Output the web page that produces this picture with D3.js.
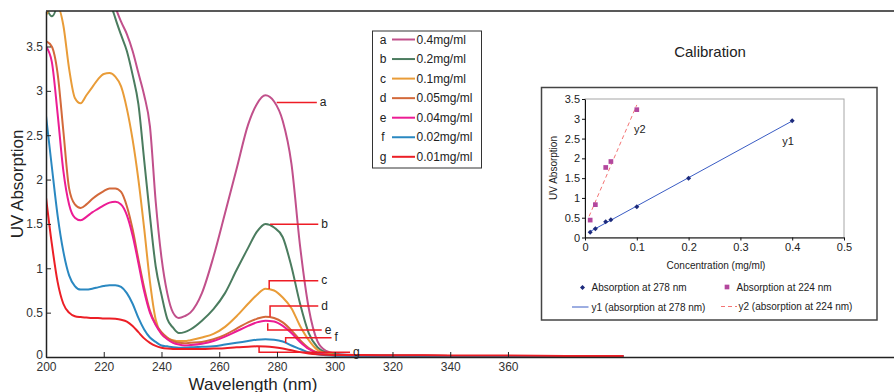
<!DOCTYPE html>
<html>
<head>
<meta charset="utf-8">
<style>
body { margin: 0; background: #fff; }
svg { display: block; font-family: "Liberation Sans", Arial, sans-serif; }
</style>
</head>
<body>
<svg width="894" height="392"></svg>
<script src="https://d3js.org/d3.v7.min.js"></script>
<script>

// ---- spectra (absorbance per wavelength) ----
var wavelengths = [200, 202, 204, 206, 208, 210, 212, 214, 216, 218, 220, 222, 224, 226, 228, 230,
  232, 234, 236, 238, 240, 242, 244, 246, 248, 250, 254, 258, 262, 266, 270, 273, 276, 279,
  282, 285, 288, 291, 294, 297, 300, 305, 310, 320, 340, 360, 380, 400]

var absA = [4.6, 4.6, 4.6, 4.6, 4.6, 4.6, 4.6, 4.6, 4.6, 4.6, 4.6, 4.2, 3.95, 3.78, 3.64, 3.45,
  3.2, 2.95, 2.6, 1.75, 1.12, 0.72, 0.5, 0.44, 0.46, 0.5, 0.72, 1.13, 1.62, 2.12, 2.62, 2.85, 2.95, 2.88,
  2.66, 2.18, 1.25, 0.55, 0.18, 0.07, 0.04, 0.025, 0.02, 0.015, 0.012, 0.01, 0.008, 0.008]
var absB = [3.95, 3.84, 4.0, 4.5, 4.5, 4.5, 4.5, 4.5, 4.5, 4.5, 4.5, 4.05, 3.82, 3.63, 3.45, 3.18,
  2.85, 2.22, 1.59, 1.02, 0.7, 0.43, 0.33, 0.27, 0.28, 0.31, 0.41, 0.54, 0.72, 0.98, 1.23, 1.41, 1.5, 1.46,
  1.35, 1.02, 0.6, 0.27, 0.11, 0.05, 0.03, 0.022, 0.02, 0.015, 0.012, 0.01, 0.008, 0.008]
var absC = [3.85, 3.95, 3.95, 3.74, 3.25, 2.92, 2.86, 2.95, 3.04, 3.13, 3.19, 3.2, 3.16, 3.05, 2.8, 2.45,
  2.0, 1.45, 0.85, 0.42, 0.26, 0.21, 0.19, 0.18, 0.18, 0.19, 0.22, 0.26, 0.34, 0.46, 0.6, 0.7, 0.77, 0.75,
  0.67, 0.55, 0.35, 0.19, 0.08, 0.04, 0.025, 0.02, 0.018, 0.015, 0.012, 0.01, 0.008, 0.008]
var absD = [3.56, 3.5, 3.2, 2.55, 1.9, 1.72, 1.68, 1.72, 1.78, 1.83, 1.87, 1.9, 1.9, 1.86, 1.7, 1.44,
  1.1, 0.78, 0.52, 0.37, 0.28, 0.22, 0.18, 0.16, 0.155, 0.16, 0.17, 0.2, 0.25, 0.32, 0.39, 0.43, 0.455, 0.44,
  0.39, 0.3, 0.19, 0.1, 0.05, 0.03, 0.02, 0.018, 0.016, 0.014, 0.012, 0.01, 0.008, 0.008]
var absE = [3.5, 3.33, 2.75, 2.1, 1.72, 1.57, 1.54, 1.58, 1.63, 1.67, 1.71, 1.74, 1.75, 1.72, 1.6, 1.37,
  1.06, 0.74, 0.5, 0.36, 0.26, 0.2, 0.16, 0.14, 0.13, 0.135, 0.15, 0.18, 0.23, 0.29, 0.35, 0.39, 0.41, 0.4,
  0.35, 0.27, 0.17, 0.09, 0.045, 0.025, 0.02, 0.018, 0.016, 0.014, 0.012, 0.01, 0.008, 0.008]
var absF = [2.72, 2.15, 1.6, 1.19, 0.92, 0.8, 0.76, 0.76, 0.77, 0.785, 0.8, 0.81, 0.81, 0.79, 0.72, 0.6,
  0.44, 0.31, 0.22, 0.17, 0.13, 0.12, 0.11, 0.105, 0.105, 0.11, 0.115, 0.12, 0.14, 0.16, 0.18, 0.195, 0.2, 0.195,
  0.175, 0.13, 0.09, 0.05, 0.03, 0.02, 0.015, 0.015, 0.014, 0.013, 0.012, 0.01, 0.008, 0.008]
var absG = [1.8, 1.28, 0.85, 0.6, 0.5, 0.46, 0.45, 0.445, 0.44, 0.44, 0.435, 0.435, 0.43, 0.42, 0.4, 0.35,
  0.28, 0.21, 0.16, 0.125, 0.105, 0.095, 0.09, 0.09, 0.09, 0.09, 0.09, 0.095, 0.1, 0.11, 0.115, 0.12, 0.118, 0.11,
  0.095, 0.075, 0.055, 0.04, 0.03, 0.025, 0.022, 0.022, 0.022, 0.02, 0.018, 0.016, 0.012, 0.01]

var curveKeys = ['a', 'b', 'c', 'd', 'e', 'f', 'g']
var curveConc = ['0.4mg/ml', '0.2mg/ml', '0.1mg/ml', '0.05mg/ml', '0.04mg/ml', '0.02mg/ml', '0.01mg/ml']
var curveValues = [absA, absB, absC, absD, absE, absF, absG]
var curveColors = ['#c1508b', '#4b7c5f', '#e99c38', '#d3693a', '#ec1c94', '#2a88c1', '#ec1f26']

// red call-outs: [start nm, start abs, elbow abs, end nm]
var callouts = [
  [279.9, 2.87, 2.87, 293.8],
  [277.6, 1.496, 1.496, 294.3],
  [277.3, 0.767, 0.86, 294.3],
  [277.6, 0.454, 0.575, 294.3],
  [276.8, 0.38, 0.304, 295.5],
  [283.0, 0.158, 0.218, 298.9],
  [273.8, 0.116, 0.053, 305.3]
]

var xTicks = [200, 220, 240, 260, 280, 300, 320, 340, 360]
var yTicks = [0, 0.5, 1, 1.5, 2, 2.5, 3, 3.5]

// ---- calibration inset ----
var conc278 = [0.01, 0.02, 0.04, 0.05, 0.1, 0.2, 0.4]
var abs278 = [0.13, 0.22, 0.40, 0.45, 0.78, 1.50, 2.95]
var conc224 = [0.01, 0.02, 0.04, 0.05, 0.1]
var abs224 = [0.44, 0.83, 1.77, 1.92, 3.23]
var calXTicks = [0, 0.1, 0.2, 0.3, 0.4, 0.5]
var calYTicks = [0, 0.5, 1, 1.5, 2, 2.5, 3, 3.5]

var svg = d3.select('svg')
var ink = '#222'

// main plot scales
var x = d3.scaleLinear().domain([200, 493.7]).range([46, 894])
var y = d3.scaleLinear().domain([0, 3.9]).range([357, 11])

svg.append('clipPath').attr('id', 'plotClip')
  .append('rect').attr('x', 46).attr('y', 11).attr('width', 848).attr('height', 346)

var line = d3.line()
  .x(function (d) { return x(d[0]) })
  .y(function (d) { return y(d[1]) })
  .curve(d3.curveMonotoneX)

var curveGroup = svg.append('g').attr('clip-path', 'url(#plotClip)')
curveValues.forEach(function (vals, i) {
  var pts = wavelengths.map(function (w, j) { return [w, vals[j]] })
  curveGroup.append('path')
    .attr('d', line(pts))
    .attr('fill', 'none')
    .attr('stroke', curveColors[i])
    .attr('stroke-width', 2)
})

// call-outs
var calloutGroup = svg.append('g')
callouts.forEach(function (c, i) {
  calloutGroup.append('path')
    .attr('d', 'M' + x(c[0]) + ',' + y(c[1]) + 'V' + y(c[2]) + 'H' + x(c[3]))
    .attr('fill', 'none')
    .attr('stroke', '#ee1c25')
    .attr('stroke-width', 1.5)
  calloutGroup.append('text')
    .attr('x', x(c[3]) + 3)
    .attr('y', y(c[2]))
    .attr('dy', '0.3em')
    .attr('font-size', 12)
    .attr('fill', ink)
    .text(curveKeys[i])
})

// axes
var yAxis = svg.append('g').attr('transform', 'translate(46,0)')
  .call(d3.axisLeft(y).tickValues(yTicks).tickSize(-5).tickSizeOuter(0).tickPadding(3)
    .tickFormat(d3.format('')))
var xAxis = svg.append('g').attr('transform', 'translate(0,357)')
  .call(d3.axisBottom(x).tickValues(xTicks).tickSize(-5).tickSizeOuter(0).tickPadding(5))
;[xAxis, yAxis].forEach(function (ax) {
  ax.select('.domain').attr('stroke', ink).attr('stroke-width', 1.5)
  ax.selectAll('.tick line').attr('stroke', ink)
  ax.selectAll('text').attr('font-size', 12).attr('fill', '#333')
    .attr('font-family', '"Liberation Sans", Arial, sans-serif')
})
// lift the "0" label a touch so it clears the x tick labels
yAxis.selectAll('.tick').filter(function (d) { return d === 0 }).select('text').attr('dy', '0.1em')
svg.append('line').attr('x1', 46).attr('x2', 894).attr('y1', 11).attr('y2', 11)
  .attr('stroke', ink).attr('stroke-width', 1.5)

svg.append('text')
  .attr('transform', 'translate(23,184) rotate(-90)')
  .attr('text-anchor', 'middle')
  .attr('font-size', 17).attr('fill', ink)
  .text('UV Absorption')
svg.append('text')
  .attr('x', 253).attr('y', 390)
  .attr('text-anchor', 'middle')
  .attr('font-size', 17).attr('fill', ink)
  .text('Wavelength (nm)')

// legend
var legend = svg.append('g')
legend.append('rect').attr('x', 372.5).attr('y', 31).attr('width', 109).attr('height', 137)
  .attr('fill', '#fff').attr('stroke', '#333')
curveKeys.forEach(function (k, i) {
  var ly = 39.5 + i * 19.55
  legend.append('text').attr('x', 383).attr('y', ly).attr('dy', '0.35em')
    .attr('text-anchor', 'middle').attr('font-size', 12).attr('fill', ink).text(k)
  legend.append('line').attr('x1', 392).attr('x2', 415).attr('y1', ly).attr('y2', ly)
    .attr('stroke', curveColors[i]).attr('stroke-width', 2)
  legend.append('text').attr('x', 416.5).attr('y', ly).attr('dy', '0.35em')
    .attr('font-size', 12).attr('fill', ink).text(curveConc[i])
})

// ---- calibration inset ----
svg.append('text').attr('x', 710).attr('y', 57).attr('text-anchor', 'middle')
  .attr('font-size', 15).attr('fill', ink).text('Calibration')

var cal = svg.append('g')
cal.append('rect').attr('x', 541.5).attr('y', 87.5).attr('width', 335.5).attr('height', 232.5)
  .attr('fill', '#fff').attr('stroke', '#444').attr('stroke-width', 1.5)

var cx = d3.scaleLinear().domain([0, 0.5]).range([585, 844])
var cy = d3.scaleLinear().domain([0, 3.5]).range([237.5, 99])

cal.append('rect').attr('x', 585).attr('y', 99).attr('width', 259).attr('height', 138.5)
  .attr('fill', 'none').attr('stroke', '#a6a6a6')

var cxAxis = cal.append('g').attr('transform', 'translate(0,237.5)')
  .call(d3.axisBottom(cx).tickValues(calXTicks).tickSize(3).tickSizeOuter(0).tickPadding(3)
    .tickFormat(d3.format('')))
var cyAxis = cal.append('g').attr('transform', 'translate(585,0)')
  .call(d3.axisLeft(cy).tickValues(calYTicks).tickSize(3).tickSizeOuter(0).tickPadding(2)
    .tickFormat(d3.format('')))
;[cxAxis, cyAxis].forEach(function (ax) {
  ax.select('.domain').attr('stroke', '#111')
  ax.selectAll('.tick line').attr('stroke', '#111')
  ax.selectAll('text').attr('font-size', 11).attr('fill', ink)
    .attr('font-family', '"Liberation Sans", Arial, sans-serif')
})

cal.append('text').attr('transform', 'translate(557,168) rotate(-90)')
  .attr('text-anchor', 'middle').attr('font-size', 10).attr('fill', ink).text('UV Absorption')
cal.append('text').attr('x', 716).attr('y', 268.5).attr('text-anchor', 'middle')
  .attr('font-size', 10).attr('fill', ink).text('Concentration (mg/ml)')

// least squares trend lines
function fit(xs, ys) {
  var mx = d3.mean(xs), my = d3.mean(ys)
  var sxy = d3.sum(xs, function (v, i) { return (v - mx) * (ys[i] - my) })
  var sxx = d3.sum(xs, function (v) { return (v - mx) * (v - mx) })
  var slope = sxy / sxx
  return { slope: slope, icpt: my - slope * mx }
}
var fit278 = fit(conc278, abs278)
var fit224 = fit(conc224, abs224)
function trend(f, xs) {
  var lo = d3.min(xs), hi = d3.max(xs)
  return [[lo, f.icpt + f.slope * lo], [hi, f.icpt + f.slope * hi]]
}
var cline = d3.line().x(function (d) { return cx(d[0]) }).y(function (d) { return cy(d[1]) })
cal.append('path').attr('d', cline(trend(fit278, conc278)))
  .attr('stroke', '#3a5cc4').attr('stroke-width', 1).attr('fill', 'none')
cal.append('path').attr('d', cline(trend(fit224, [0.008, 0.1])))
  .attr('stroke', '#f47474').attr('stroke-width', 1).attr('stroke-dasharray', '4,3').attr('fill', 'none')

var diamond = d3.symbol().type(d3.symbolDiamond2).size(16)
var square = d3.symbol().type(d3.symbolSquare).size(22)
cal.selectAll('.pt278').data(conc278).enter().append('path')
  .attr('d', diamond)
  .attr('transform', function (d, i) { return 'translate(' + cx(d) + ',' + cy(abs278[i]) + ')' })
  .attr('fill', '#1c2a7c')
cal.selectAll('.pt224').data(conc224).enter().append('path')
  .attr('d', square)
  .attr('transform', function (d, i) { return 'translate(' + cx(d) + ',' + cy(abs224[i]) + ')' })
  .attr('fill', '#b3479d')

cal.append('text').attr('x', cx(0.106)).attr('y', cy(2.75)).attr('dy', '0.35em')
  .attr('text-anchor', 'middle').attr('font-size', 11).attr('fill', ink).text('y2')
cal.append('text').attr('x', cx(0.392)).attr('y', cy(2.44)).attr('dy', '0.35em')
  .attr('text-anchor', 'middle').attr('font-size', 11).attr('fill', ink).text('y1')

// inset legend
cal.append('path').attr('d', diamond).attr('transform', 'translate(582.5,287.5)').attr('fill', '#1c2a7c')
cal.append('text').attr('x', 591.5).attr('y', 287.5).attr('dy', '0.35em')
  .attr('font-size', 10).attr('fill', ink).text('Absorption at 278 nm')
cal.append('path').attr('d', square).attr('transform', 'translate(727,287)').attr('fill', '#b3479d')
cal.append('text').attr('x', 736.5).attr('y', 287.5).attr('dy', '0.35em')
  .attr('font-size', 10).attr('fill', ink).text('Absorption at 224 nm')
cal.append('line').attr('x1', 572).attr('x2', 588.5).attr('y1', 307).attr('y2', 307)
  .attr('stroke', '#3a5cc4').attr('stroke-width', 1)
cal.append('text').attr('x', 591.5).attr('y', 307).attr('dy', '0.35em')
  .attr('font-size', 10).attr('fill', ink).text('y1 (absorption at 278 nm)')
cal.append('line').attr('x1', 721).attr('x2', 737).attr('y1', 306.5).attr('y2', 306.5)
  .attr('stroke', '#f47474').attr('stroke-width', 1).attr('stroke-dasharray', '4,3')
cal.append('text').attr('x', 738.5).attr('y', 306.5).attr('dy', '0.35em')
  .attr('font-size', 10).attr('fill', ink).text('y2 (absorption at 224 nm)')

</script>
</body>
</html>
